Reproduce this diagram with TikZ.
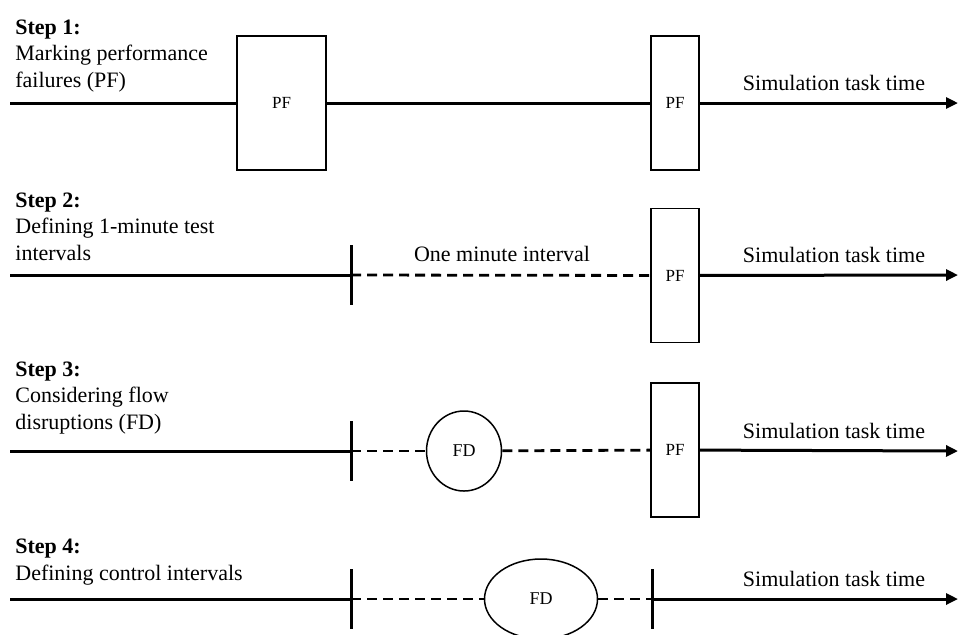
\documentclass[tikz,border=0pt]{standalone}
\usepackage{fontspec}
\setmainfont{Liberation Serif}
\usetikzlibrary{arrows.meta,shapes.geometric}

\begin{document}
\begin{tikzpicture}[x=0.5pt,y=-0.5pt,
    axis/.style={line width=1.5pt},
    gapline/.style={line width=1.4pt,dash pattern=on 5pt off 3pt},
    timeaxis/.style={axis,-{Triangle[length=6pt,width=5.5pt]}},
    tickmark/.style={line width=1.5pt},
    steptext/.style={anchor=base west,align=left,inner sep=0pt,font=\fontsize{11}{13.2}\selectfont},
    timelabel/.style={anchor=base,inner sep=0pt,font=\fontsize{11}{13}\selectfont},
    pfbox/.style={draw,line width=0.75pt,fill=white,minimum width=24pt,minimum height=67pt,inner sep=0pt,font=\fontsize{8.5}{10}\selectfont},
    fdmark/.style={ellipse,draw,line width=0.75pt,fill=white,inner sep=0pt,font=\fontsize{9}{10}\selectfont}]
    \useasboundingbox (0,0) rectangle (962,634);
    % step texts (anchored at the last line)
    \node[steptext] (st1) at (15,87) {\textbf{Step 1:}\\Marking performance\\failures (PF)};
    \node[steptext] (st2) at (15,260) {\textbf{Step 2:}\\Defining 1-minute test\\intervals};
    \node[steptext] (st3) at (15,429) {\textbf{Step 3:}\\Considering flow\\disruptions (FD)};
    \node[steptext] (st4) at (15,580) {\textbf{Step 4:}\\Defining control intervals};
    % time axis labels
    \foreach \y/\n in {90/1,262/2,438/3,586/4}
        \node[timelabel] (time\n) at (834,\y) {Simulation task time};
    % step 1
    \coordinate (s1) at (10,103);
    \coordinate (e1) at (958,103);
    \node[pfbox,minimum width=44.5pt] (pf1a) at (281.5,103) {PF};
    \node[pfbox] (pf1b) at (675,103) {PF};
    \draw[axis] (s1) -- (pf1a);
    \draw[axis] (pf1a) -- (pf1b);
    \draw[timeaxis] (pf1b) -- (e1);
    % step 2
    \coordinate (s2) at (10,275);
    \coordinate (t2) at (351,275);
    \coordinate (e2) at (958,275);
    \node[pfbox] (pf2) at (675,275.5) {PF};
    \node[timelabel] (onemin) at (502,261) {One minute interval};
    \draw[axis] (s2) -- (t2);
    \draw[tickmark] ([yshift=15pt]t2) -- ([yshift=-15pt]t2);
    \draw[gapline] (t2) -- (pf2);
    \draw[timeaxis] (pf2) -- (e2);
    % step 3
    \coordinate (s3) at (10,451);
    \coordinate (t3) at (351,451);
    \coordinate (e3) at (958,451);
    \node[fdmark,minimum width=37.5pt,minimum height=40pt] (fd3) at (464,451) {FD};
    \node[pfbox] (pf3) at (675,450) {PF};
    \draw[axis] (s3) -- (t3);
    \draw[tickmark] ([yshift=15pt]t3) -- ([yshift=-15pt]t3);
    \draw[gapline] (t3) -- (fd3);
    \draw[gapline] (fd3) -- (pf3);
    \draw[timeaxis] (pf3) -- (e3);
    % step 4
    \coordinate (s4) at (10,599);
    \coordinate (t4a) at (351,599);
    \coordinate (t4b) at (652,599);
    \coordinate (e4) at (958,599);
    \node[fdmark,minimum width=56.5pt,minimum height=40pt] (fd4) at (541,599) {FD};
    \draw[axis] (s4) -- (t4a);
    \draw[tickmark] ([yshift=15pt]t4a) -- ([yshift=-15pt]t4a);
    \draw[gapline] (t4a) -- (fd4);
    \draw[gapline] (fd4) -- (t4b);
    \draw[tickmark] ([yshift=15pt]t4b) -- ([yshift=-15pt]t4b);
    \draw[timeaxis] (t4b) -- (e4);
\end{tikzpicture}
\end{document}
